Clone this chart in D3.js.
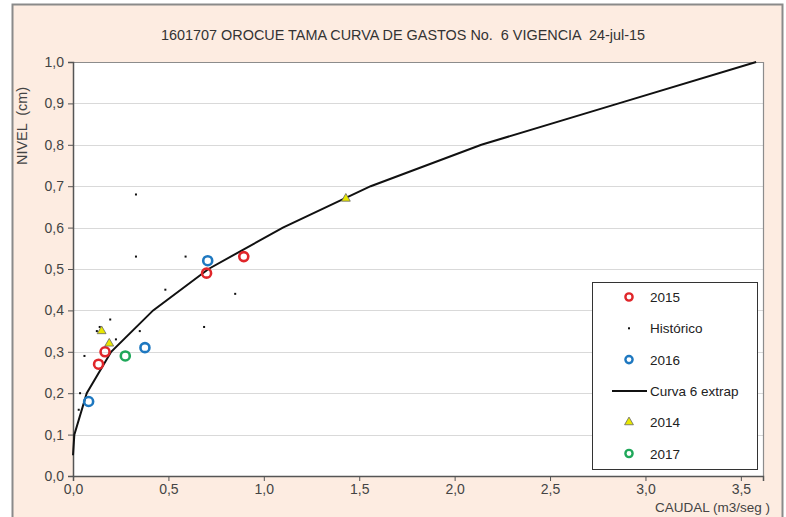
<!DOCTYPE html>
<html><head><meta charset="utf-8">
<script src="https://cdn.jsdelivr.net/npm/d3@7"></script>
<style>
html,body{margin:0;padding:0;background:#fff;}
svg{display:block;font-family:"Liberation Sans",Arial,sans-serif;}
text{white-space:pre;}
</style></head>
<body>
<svg id="chart" width="786" height="517"></svg>
<script>
const title = "1601707 OROCUE TAMA CURVA DE GASTOS No.  6 VIGENCIA  24-jul-15";
const xTicks = [0,0.5,1.0,1.5,2.0,2.5,3.0,3.5];
const yTicks = [0,0.1,0.2,0.3,0.4,0.5,0.6,0.7,0.8,0.9,1.0];

// [caudal, nivel]
const curva6 = [[0,0.05],[0.007,0.1],[0.072,0.2],[0.2,0.3],[0.42,0.4],[0.71,0.5],[1.1,0.6],[1.56,0.7],[2.14,0.8],[2.86,0.9],[3.58,1.0]];
const s2015 = [[0.134,0.27],[0.168,0.30],[0.70,0.49],[0.895,0.53]];
const s2016 = [[0.082,0.18],[0.377,0.31],[0.706,0.52]];
const s2017 = [[0.274,0.29]];
const s2014 = [[0.15,0.35],[0.19,0.32],[1.43,0.67]];
const historico = [[0.33,0.68],[0.33,0.53],[0.59,0.53],[0.484,0.45],[0.85,0.44],[0.687,0.36],[0.195,0.378],[0.35,0.35],[0.225,0.33],[0.125,0.35],[0.14,0.36],[0.06,0.29],[0.037,0.2],[0.03,0.16]];

const svg = d3.select("#chart");
// outer chart area
svg.append("rect").attr("x",12.5).attr("y",4.5).attr("width",770).attr("height",520)
  .attr("fill","#fdece1").attr("stroke","#8a8a8a").attr("stroke-width",2);

const L=73, R=763, T=62, B=476;
const x = d3.scaleLinear().domain([0,3.616]).range([L,R]);
const y = d3.scaleLinear().domain([0,1]).range([B,T]);

svg.append("rect").attr("x",L).attr("y",T).attr("width",R-L).attr("height",B-T).attr("fill","#fff");

// gridlines
svg.append("g").selectAll("line").data(yTicks.slice(1,-1)).join("line")
  .attr("x1",L).attr("x2",R).attr("y1",d=>Math.round(y(d))+0.5).attr("y2",d=>Math.round(y(d))+0.5)
  .attr("stroke","#d9d9d9").attr("stroke-width",1.2);

// plot border top/right
svg.append("path").attr("d",`M${L},${T+0.5}H${R+0.5}V${B}`).attr("fill","none").attr("stroke","#8c8c8c").attr("stroke-width",1.2);

const fmt = d=>d3.format(".1f")(d).replace(".",",");
const yAxis = svg.append("g").attr("transform",`translate(${L},0)`)
  .call(d3.axisLeft(y).tickValues(yTicks).tickFormat(fmt).tickSize(5).tickPadding(4));
const xAxis = svg.append("g").attr("transform",`translate(0,${B})`)
  .call(d3.axisBottom(x).tickValues(xTicks).tickFormat(fmt).tickSize(5).tickPadding(3));
[yAxis,xAxis].forEach(a=>{
  a.select(".domain").attr("stroke","#555").attr("stroke-width",1.5);
  a.selectAll(".tick line").attr("stroke","#555");
  a.selectAll("text").attr("font-size",14).attr("fill","#444").attr("font-family","Liberation Sans, Arial, sans-serif");
});

// titles
svg.append("text").attr("x",403).attr("y",40).attr("text-anchor","middle")
  .attr("font-size",14).attr("fill","#333")
  .attr("textLength",484).attr("lengthAdjust","spacingAndGlyphs").text(title);
svg.append("text").attr("transform","translate(27,126) rotate(-90)").attr("text-anchor","middle")
  .attr("font-size",14).attr("fill","#444")
  .attr("textLength",78).attr("lengthAdjust","spacingAndGlyphs").text("NIVEL  (cm)");
svg.append("text").attr("x",770).attr("y",512).attr("text-anchor","end")
  .attr("font-size",13.5).attr("fill","#444").text("CAUDAL (m3/seg )");

// historico dots
svg.append("g").selectAll("rect").data(historico).join("rect")
  .attr("x",d=>x(d[0])-1).attr("y",d=>y(d[1])-1).attr("width",2).attr("height",2).attr("fill","#111");

// curve
svg.append("path").datum(curva6).attr("fill","none").attr("stroke","#111").attr("stroke-width",2)
  .attr("d",d3.line().x(d=>x(d[0])).y(d=>y(d[1])));

function circles(data,color){
  svg.append("g").selectAll("circle").data(data).join("circle")
    .attr("cx",d=>x(d[0])).attr("cy",d=>y(d[1])).attr("r",4.5)
    .attr("fill","none").attr("stroke",color).attr("stroke-width",2.6);
}
const tri = d3.symbol().type(d3.symbolTriangle).size(34);
function triangles(data){
  svg.append("g").selectAll("path").data(data).join("path")
    .attr("transform",d=>`translate(${x(d[0])},${y(d[1])})`).attr("d",tri)
    .attr("fill","#e8e800").attr("stroke","#666").attr("stroke-width",0.8);
}
circles(s2015,"#e0262a");
circles(s2016,"#1e78c0");
circles(s2017,"#1fa85a");
triangles(s2014);

// legend
const lg = svg.append("g");
lg.append("rect").attr("x",592.5).attr("y",282.5).attr("width",165).attr("height",187)
  .attr("fill","#fff").attr("stroke","#333").attr("stroke-width",1);
const legendItems = [
  {label:"2015",type:"circle",color:"#e0262a"},
  {label:"Histórico",type:"dot"},
  {label:"2016",type:"circle",color:"#1e78c0"},
  {label:"Curva 6 extrap",type:"line"},
  {label:"2014",type:"tri"},
  {label:"2017",type:"circle",color:"#1fa85a"}
];
legendItems.forEach((it,i)=>{
  const cy = 297 + i*31.3;
  const g = lg.append("g");
  if(it.type==="circle") g.append("circle").attr("cx",629).attr("cy",cy).attr("r",3.6).attr("fill","none").attr("stroke",it.color).attr("stroke-width",2.4);
  if(it.type==="dot") g.append("rect").attr("x",628).attr("y",cy-1).attr("width",2).attr("height",2).attr("fill","#111");
  if(it.type==="line") g.append("line").attr("x1",612).attr("x2",647).attr("y1",cy).attr("y2",cy).attr("stroke","#111").attr("stroke-width",2);
  if(it.type==="tri") g.append("path").attr("transform",`translate(629,${cy})`).attr("d",tri).attr("fill","#e8e800").attr("stroke","#666").attr("stroke-width",0.8);
  g.append("text").attr("x",650).attr("y",cy+5).attr("font-size",13.5).attr("fill","#222").text(it.label);
});
</script>
</body></html>
